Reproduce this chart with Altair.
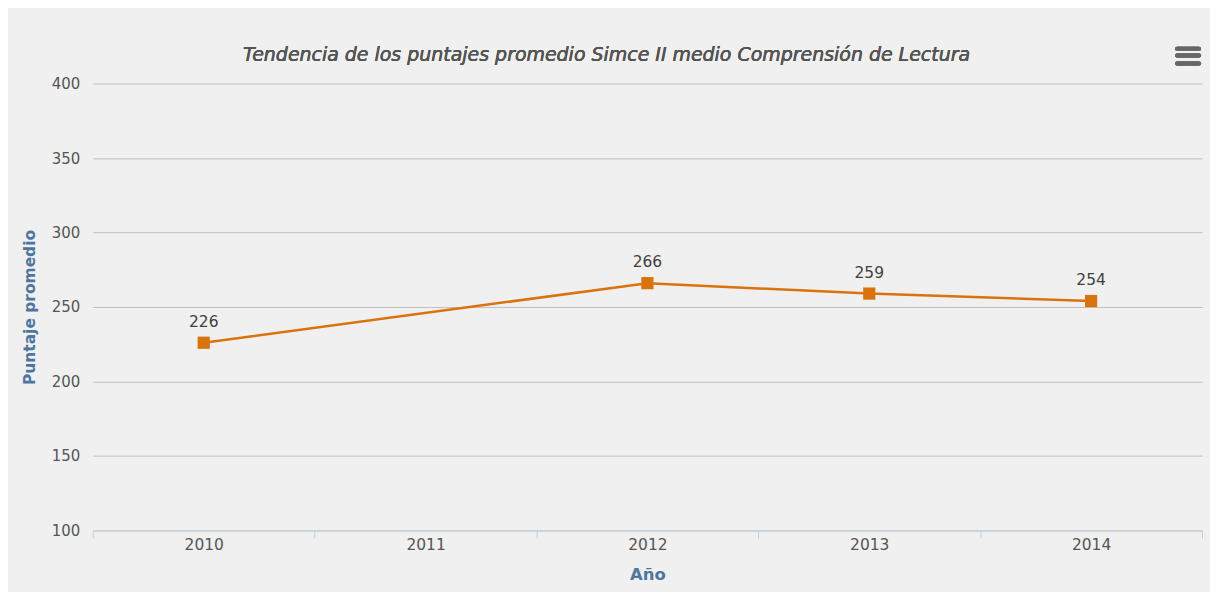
import altair as alt
import pandas as pd

years = ["2010", "2011", "2012", "2013", "2014"]
point_years = ["2010", "2012", "2013", "2014"]
scores = [226, 266, 259, 254]
y_ticks = [100, 150, 200, 250, 300, 350, 400]
title_text = "Tendencia de los puntajes promedio Simce II medio Comprensión de Lectura"

df = pd.DataFrame({"Año": point_years, "Puntaje": scores})

W, H = 1112, 448
FONT = "DejaVu Sans"
ORANGE = "#d9730d"

x_enc = alt.X(
    "Año:N",
    scale=alt.Scale(type="band", domain=years, paddingInner=0, paddingOuter=0),
    axis=alt.Axis(
        title="Año", tickBand="extent", tickSize=8, tickColor="#C0D0E0",
        domainColor="#C0D0E0", labelPadding=-1, labelFontSize=15.5,
        labelColor="#555555", labelAngle=0, grid=False, labelFont=FONT,
        titleColor="#4d759e", titleFontWeight="bold", titleFontSize=16.5,
        titleFont=FONT, titleY=44, titleBaseline="middle",
    ),
)
y_enc = alt.Y(
    "Puntaje:Q",
    scale=alt.Scale(domain=[100, 400], nice=False, zero=False),
    axis=alt.Axis(
        values=y_ticks, grid=True, gridColor="#c0c0c0", domain=False, ticks=False,
        labelPadding=13, labelFontSize=15, labelColor="#555555", labelFont=FONT,
        title="Puntaje promedio", titleColor="#4d759e", titleFontWeight="bold",
        titleFontSize=15.5, titleFont=FONT, titleX=-63, titleY=224, titleAngle=-90,
        titleAlign="center", titleBaseline="middle",
    ),
)

base = alt.Chart(df).encode(x=x_enc, y=y_enc)
line = base.mark_line(color=ORANGE, strokeWidth=2.5)
pts = base.mark_point(shape="square", size=150, filled=True, opacity=1, color=ORANGE)
labels = base.mark_text(dy=-21, fontSize=15.5, color="#404040", font=FONT).encode(
    text="Puntaje:Q"
)

title_mark = alt.Chart(df).mark_text(
    text=title_text, font=FONT, fontSize=19, fontStyle="italic",
    color="#555555", align="center", baseline="middle",
).encode(x=alt.value(515), y=alt.value(-29))

menu_rules = [
    alt.Chart(df).mark_rule(color="#666666", strokeWidth=4, strokeCap="round").encode(
        x=alt.value(1087), x2=alt.value(1109), y=alt.value(yy)
    )
    for yy in (-35, -28, -20)
]

chart = alt.layer(line, pts, labels, title_mark, *menu_rules).properties(
    width=W,
    height=H,
    autosize=alt.AutoSizeParams(type="none"),
    padding={"left": 85, "top": 75, "right": 8, "bottom": 61},
    background="#f0f0f0",
).configure_view(stroke=None)

chart.save("out.html", embed_options={"renderer": "svg", "actions": False})
